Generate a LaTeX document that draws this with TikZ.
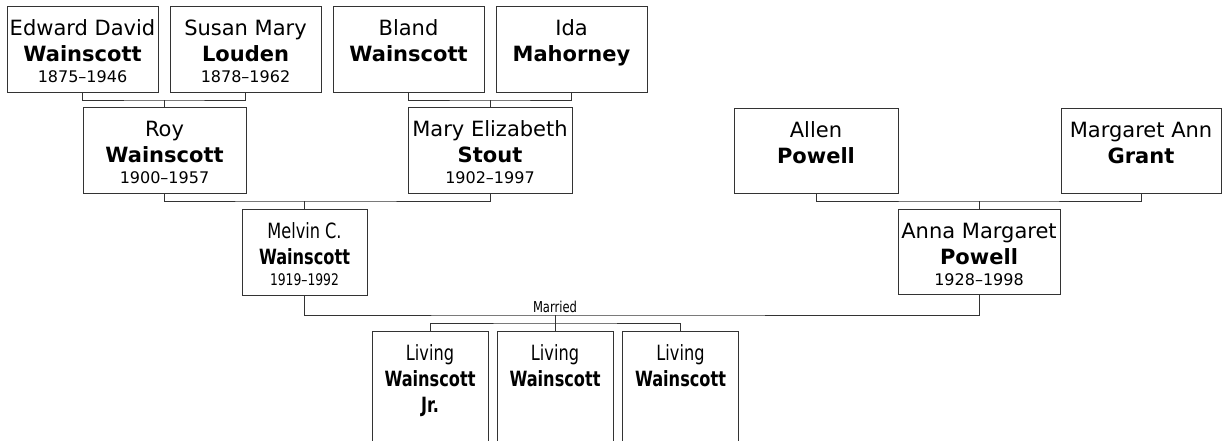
\documentclass[tikz,border=0pt]{standalone}
\usepackage{fontspec}
\setmainfont{DejaVu Sans}
\newfontfamily\narrowfont[FakeStretch=0.77,Ligatures=TeX]{DejaVu Sans}
\newcommand{\namefont}{\fontsize{21}{26}\selectfont}
\newcommand{\datefont}{\fontsize{16}{21}\selectfont}
% box text: [face] width, height, given names, surname, years
\newcommand{\pers}[6][\rmfamily]{\parbox[c][#3][t]{#2}{#1\centering\namefont\rule{0pt}{29pt}#4\\\textbf{#5}\par\datefont #6\par}}
\tikzset{
  person/.style={draw=black!80,line width=1pt,rectangle,inner sep=0pt},
  link/.style={draw=black!80,line width=1pt}
}
\begin{document}
\begin{tikzpicture}[x=1pt,y=-1pt]
   \useasboundingbox (0,0) rectangle (1222,440);
   \clip (0,0) rectangle (1222,440);
   %grandparents
   \node[person] (edward) at (82.5,49) {\pers{151pt}{86pt}{Edward David}{Wainscott}{1875--1946}};
   \node[person] (susan) at (245.5,49) {\pers{151pt}{86pt}{Susan Mary}{Louden}{1878--1962}};
   \node[person] (bland) at (408.5,49) {\pers{151pt}{86pt}{Bland}{Wainscott}{}};
   \node[person] (ida) at (571.5,49) {\pers{151pt}{86pt}{Ida}{Mahorney}{}};
   %parents
   \node[person] (roy) at (164.5,150) {\pers{163pt}{86pt}{Roy}{Wainscott}{1900--1957}};
   \node[person] (mary) at (490,150) {\pers{164pt}{86pt}{Mary Elizabeth}{Stout}{1902--1997}};
   \node[person] (allen) at (816,150.5) {\pers{164pt}{85pt}{Allen}{Powell}{}};
   \node[person] (grant) at (1141,150.5) {\pers{160pt}{85pt}{Margaret Ann}{Grant}{}};
   %couple
   \node[person] (melvin) at (304.5,252) {\pers[\narrowfont]{125pt}{86pt}{Melvin C.}{Wainscott}{1919--1992}};
   \node[person] (anna) at (979,251.5) {\pers{162pt}{85pt}{Anna Margaret}{Powell}{1928--1998}};
   %children
   \node[person,anchor=north] (kid1) at (430,331) {\pers[\narrowfont]{116pt}{130pt}{Living}{Wainscott\\Jr.}{}};
   \node[person,anchor=north] (kid2) at (555,331) {\pers[\narrowfont]{116pt}{130pt}{Living}{Wainscott}{}};
   \node[person,anchor=north] (kid3) at (680.5,331) {\pers[\narrowfont]{116pt}{130pt}{Living}{Wainscott}{}};
   %links
   \draw[link] (edward.south) |- (roy.north |- 0,100) -| (susan.south);
   \draw[link] (roy.north) -- (roy.north |- 0,100);
   \draw[link] (bland.south) |- (mary.north |- 0,100) -| (ida.south);
   \draw[link] (mary.north) -- (mary.north |- 0,100);
   \draw[link] (roy.south) |- (melvin.north |- 0,201) -| (mary.south);
   \draw[link] (melvin.north) -- (melvin.north |- 0,201);
   \draw[link] (allen.south) |- (anna.north |- 0,201) -| (grant.south);
   \draw[link] (anna.north) -- (anna.north |- 0,201);
   %marriage
   \coordinate (wed) at (kid2.north |- 0,315);
   \draw[link] (melvin.south) |- (wed) -| (anna.south);
   \node[above,inner sep=2pt,font=\narrowfont\fontsize{15}{18}\selectfont] (married) at (wed) {Married};
   \draw[link] (wed) -- (kid2.north);
   \draw[link] (kid1.north) |- (kid2.north |- 0,323) -| (kid3.north);
\end{tikzpicture}
\end{document}
